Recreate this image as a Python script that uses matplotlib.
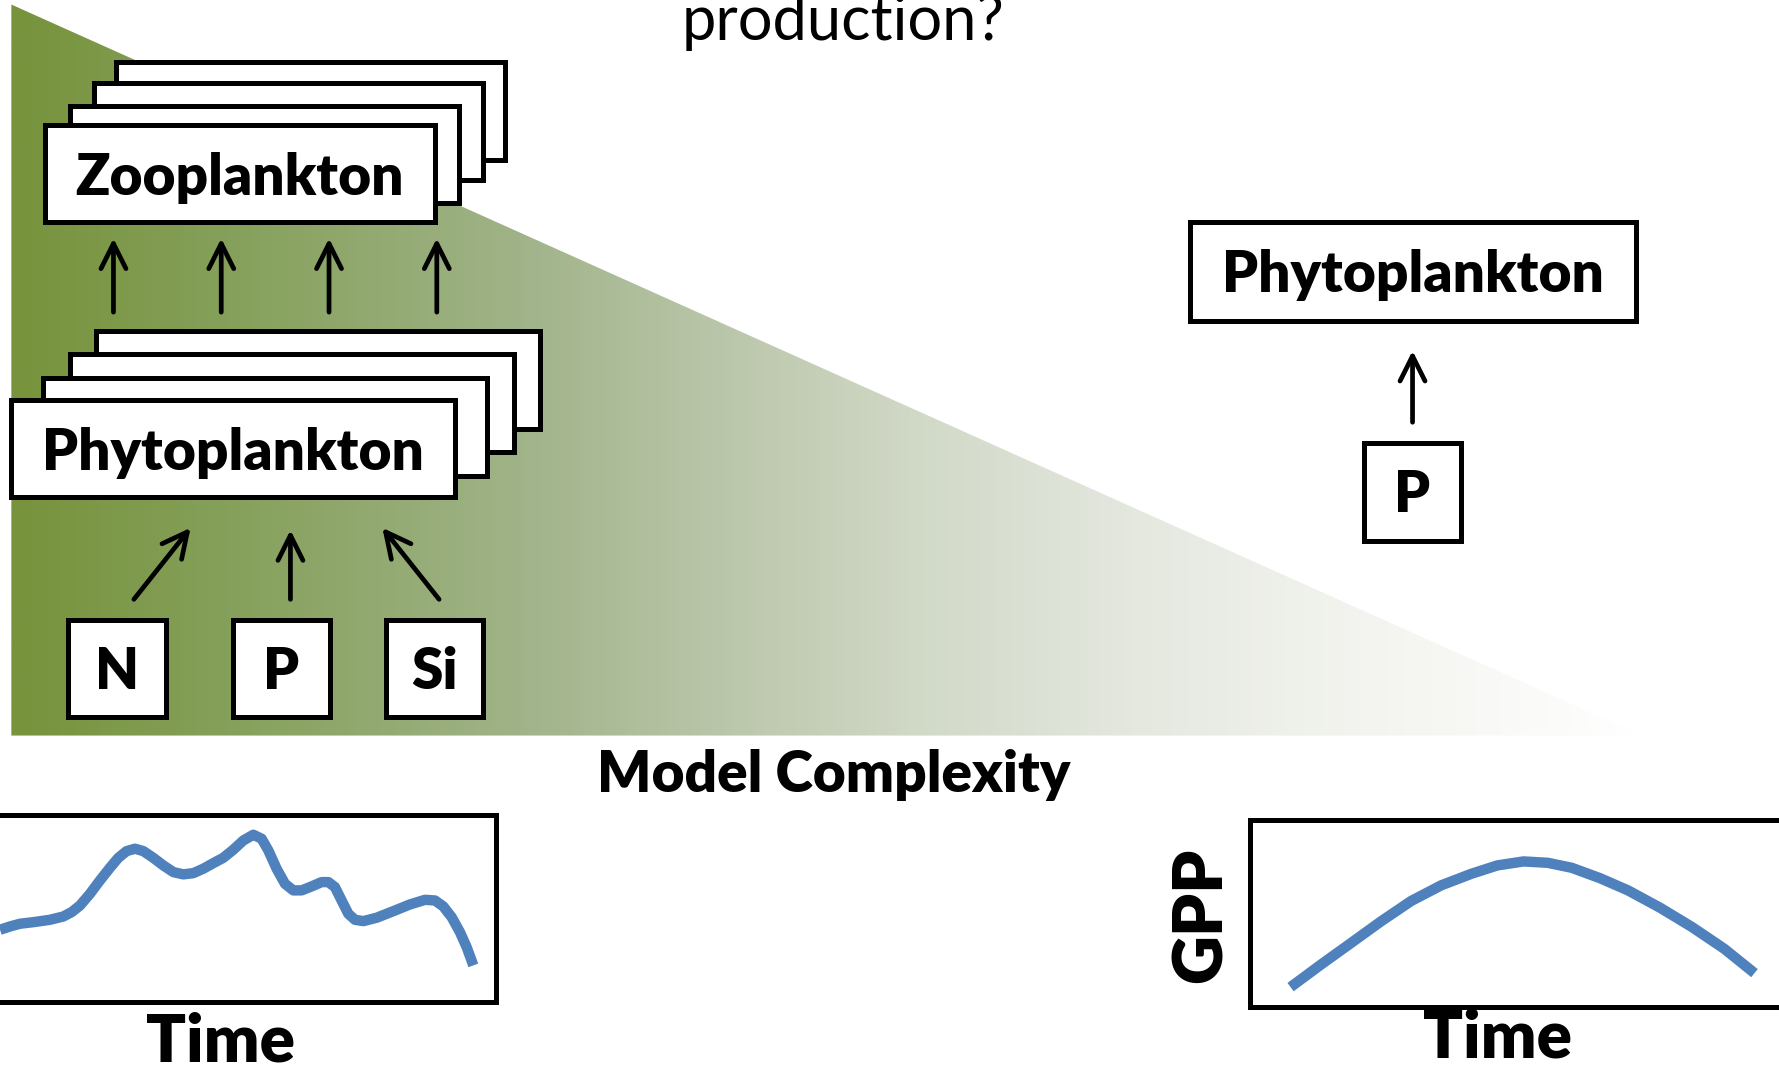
import matplotlib.pyplot as plt
import numpy as np
from matplotlib.patches import Rectangle, Polygon
from matplotlib.colors import LinearSegmentedColormap

# picture is laid out in the 1568 x 940 reference frame
W, H = 1568, 940
PT = 1779 / W * 72 / 100  # points per layout px

font = "Lato"
blue = "#4F81BD"

# labels
zoo_label = "Zooplankton"
phyto_label = "Phytoplankton"
nutrients = ["N", "P", "Si"]
simple_nutrient = "P"
axis_label = "Model Complexity"
title_tail = "production?"

# complex model GPP over time (left mini plot)
complex_t = [0, 8.8, 17.6, 29.4, 44.1, 55.8, 63.2, 70.5, 79.3, 88.1, 96.9, 104.3, 111.6, 119.0, 126.3,
             135.1, 143.9, 152.8, 161.6, 170.4, 179.2, 188.0, 196.8, 205.6, 214.5, 223.3, 230.6, 236.5,
             243.8, 251.2, 258.5, 265.9, 274.7, 283.5, 289.4, 295.2, 301.1, 307.0, 312.9, 320.2, 332.0,
             346.7, 361.3, 374.6, 383.4, 390.7, 398.1, 405.4, 411.3, 417.2]
complex_gpp = [819.1, 816.2, 813.8, 812.4, 810.3, 807.4, 803.5, 797.7, 787.4, 775.6, 764.5, 755.7, 749.8,
               747.7, 749.8, 755.7, 762.4, 768.3, 770.3, 769.2, 765.3, 760.4, 755.7, 748.6, 740.4, 735.4,
               738.9, 749.2, 765.3, 778.6, 784.4, 784.4, 780.9, 777.1, 777.1, 781.5, 793.3, 805.0, 810.3,
               811.5, 808.5, 802.7, 796.8, 792.7, 793.3, 798.5, 808.0, 821.2, 834.4, 850.5]

# simple model GPP over time (right mini plot)
simple_t = [1137.5, 1164.1, 1190.6, 1217.1, 1243.7, 1270.2, 1296.8, 1319.8, 1342.8, 1364.1, 1385.3,
            1410.1, 1434.9, 1463.2, 1491.5, 1519.8, 1546.4]
simple_gpp = [869.6, 849.9, 830.9, 811.8, 793.8, 780.0, 769.8, 762.4, 758.9, 760.1, 764.5, 773.6,
              784.4, 799.7, 816.8, 835.9, 857.3]

# background fade, green to white along the complexity axis
fade_pos = [0.0, 0.13, 0.31, 0.41, 0.55, 0.69, 0.83, 1.0]
fade_col = ["#77933C", "#85A05A", "#A0B388", "#B5C2A3", "#D0D8C6", "#E4E8DF", "#F3F4EF", "#FFFFFF"]

fig = plt.figure(figsize=(17.79, 10.67), dpi=100)
ax = fig.add_axes([0, 0, 1, 1])
ax.set_xlim(0, W)
ax.set_ylim(H, 0)
ax.axis("off")

# gradient triangle
fade = LinearSegmentedColormap.from_list("fade", list(zip(fade_pos, fade_col)))
tri = Polygon([(10, 4), (1447, 648), (10, 648)], closed=True, facecolor="none", edgecolor="none")
ax.add_patch(tri)
im = ax.imshow(np.linspace(0, 1, 800)[None, :], cmap=fade, extent=(10, 1447, 648, 4),
               aspect="auto", interpolation="bilinear", zorder=1)
im.set_clip_path(tri)

box_lw = 3.6


def box(x0, y0, x1, y1, z=2):
    ax.add_patch(Rectangle((x0, y0), x1 - x0, y1 - y0, facecolor="white", edgecolor="black",
                           lw=box_lw, joinstyle="miter", zorder=z))


def arrow(x0, y0, x1, y1):
    ax.annotate("", xy=(x1, y1), xytext=(x0, y0), zorder=4,
                arrowprops=dict(arrowstyle="->,head_length=0.6,head_width=0.3", lw=3.4,
                                color="black", mutation_scale=30, shrinkA=0, shrinkB=0))


def label(x, y, s, size, **kw):
    ax.text(x, y, s, fontsize=size * PT, family=font, ha="center", va="baseline", zorder=5, **kw)


# zooplankton stack
for dx, dy in [(62, -55), (43, -37), (22, -17), (0, 0)]:
    box(40 + dx, 110 + dy, 383 + dx, 196 + dy)
label(211.5, 172, zoo_label, 50, weight="heavy")

for x in [100, 195, 290, 385]:
    arrow(x, 275, x, 210)

# phytoplankton stack
for dx, dy in [(75, -60), (52, -40), (28, -19), (0, 0)]:
    box(10 + dx, 352 + dy, 401 + dx, 438 + dy)
label(205, 414, phyto_label, 50, weight="heavy")

arrow(118, 528, 168, 465)
arrow(256, 528, 256, 467)
arrow(387, 528, 337, 465)

for cx, s in zip([103, 248, 383], nutrients):
    box(cx - 43, 546, cx + 43, 632)
    label(cx, 607, s, 50, weight="heavy")

label(735, 698, axis_label, 50, weight="heavy")
label(743, 35, title_tail, 54)

# simple model
box(1049, 196, 1442, 283)
label(1245.5, 257, phyto_label, 50, weight="heavy")
arrow(1245, 372, 1245, 309)
box(1202, 390, 1288, 477)
label(1245, 451, simple_nutrient, 50, weight="heavy")

# left mini plot
box(-20, 718, 437, 883)
ax.plot(complex_t, complex_gpp, color=blue, lw=7.5, solid_capstyle="butt", solid_joinstyle="round", zorder=3)
label(194, 935, "Time", 58, weight="heavy")

# right mini plot
box(1102, 722, 1620, 887)
ax.plot(simple_t, simple_gpp, color=blue, lw=7.5, solid_capstyle="butt", solid_joinstyle="round", zorder=3)
label(1320, 932, "Time", 58, weight="heavy")
ax.text(1077, 806, "GPP", fontsize=60 * PT, family=font, weight="heavy", rotation=90,
        rotation_mode="anchor", ha="center", va="baseline", zorder=5)

fig.savefig("out.png", dpi=100)
